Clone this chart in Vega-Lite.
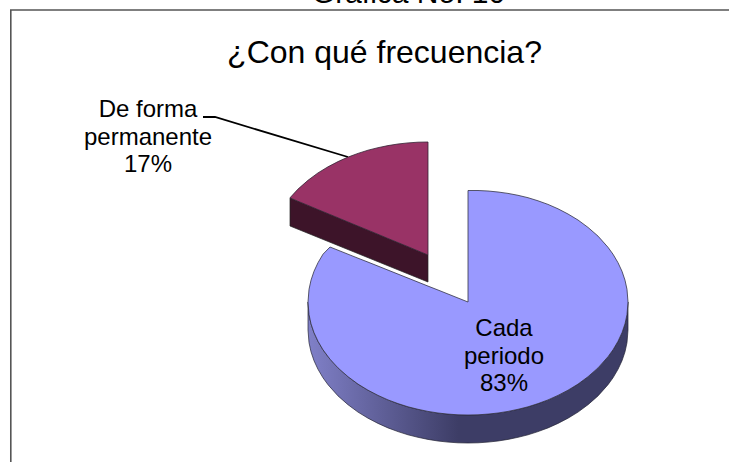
{"$schema":"https://vega.github.io/schema/vega-lite/v6.json","width":729,"height":462,"autosize":"none","padding":0,"background":"white","view":{"stroke":null},
"datasets":{
"frame":[{"x":10.8,"x2":760,"y":10,"y2":500}],
"blueWall":[{"x":308,"y":302,"y2":330},{"x":309,"y":314.6,"y2":342.6},{"x":311,"y":323.8,"y2":351.8},{"x":314,"y":332.7,"y2":360.7},{"x":318,"y":341.3,"y2":369.3},{"x":323,"y":349.8,"y2":377.8},{"x":328,"y":356.7,"y2":384.7},{"x":338,"y":367.9,"y2":395.9},{"x":348,"y":376.7,"y2":404.7},{"x":358,"y":384.1,"y2":412.1},{"x":368,"y":390.2,"y2":418.2},{"x":378,"y":395.4,"y2":423.4},{"x":388,"y":399.9,"y2":427.9},{"x":398,"y":403.6,"y2":431.6},{"x":408,"y":406.8,"y2":434.8},{"x":418,"y":409.3,"y2":437.3},{"x":428,"y":411.4,"y2":439.4},{"x":438,"y":413,"y2":441},{"x":448,"y":414.1,"y2":442.1},{"x":458,"y":414.8,"y2":442.8},{"x":468,"y":415,"y2":443},{"x":478,"y":414.8,"y2":442.8},{"x":488,"y":414.1,"y2":442.1},{"x":498,"y":413,"y2":441},{"x":508,"y":411.4,"y2":439.4},{"x":518,"y":409.3,"y2":437.3},{"x":528,"y":406.8,"y2":434.8},{"x":538,"y":403.6,"y2":431.6},{"x":548,"y":399.9,"y2":427.9},{"x":558,"y":395.4,"y2":423.4},{"x":568,"y":390.2,"y2":418.2},{"x":578,"y":384.1,"y2":412.1},{"x":588,"y":376.7,"y2":404.7},{"x":598,"y":367.9,"y2":395.9},{"x":608,"y":356.7,"y2":384.7},{"x":613,"y":349.8,"y2":377.8},{"x":618,"y":341.3,"y2":369.3},{"x":622,"y":332.7,"y2":360.7},{"x":625,"y":323.8,"y2":351.8},{"x":627,"y":314.6,"y2":342.6},{"x":628,"y":302,"y2":330}],
"blueTop":[{"x":308,"y":302,"y2":302},{"x":309,"y":289.4,"y2":314.6},{"x":311,"y":280.2,"y2":323.8},{"x":314,"y":271.3,"y2":332.7},{"x":318,"y":262.7,"y2":341.3},{"x":323,"y":254.2,"y2":349.8},{"x":330,"y":247,"y2":359.2},{"x":338,"y":250.2,"y2":367.9},{"x":348,"y":254.2,"y2":376.7},{"x":358,"y":258.2,"y2":384.1},{"x":368,"y":262.1,"y2":390.2},{"x":378,"y":266.1,"y2":395.4},{"x":388,"y":270.1,"y2":399.9},{"x":398,"y":274.1,"y2":403.6},{"x":408,"y":278.1,"y2":406.8},{"x":418,"y":282.1,"y2":409.3},{"x":428,"y":286.1,"y2":411.4},{"x":438,"y":290,"y2":413},{"x":448,"y":294,"y2":414.1},{"x":458,"y":298,"y2":414.8},{"x":468,"y":302,"y2":415},{"x":468.01,"y":190.5,"y2":415},{"x":478,"y":190.5,"y2":414.8},{"x":488,"y":191,"y2":414.1},{"x":498,"y":192,"y2":413},{"x":508,"y":193.4,"y2":411.4},{"x":518,"y":195.3,"y2":409.3},{"x":528,"y":197.7,"y2":406.8},{"x":538,"y":200.8,"y2":403.6},{"x":548,"y":204.4,"y2":399.9},{"x":558,"y":208.8,"y2":395.4},{"x":568,"y":214,"y2":390.2},{"x":578,"y":220,"y2":384.1},{"x":588,"y":227.4,"y2":376.7},{"x":598,"y":236.1,"y2":367.9},{"x":608,"y":247.3,"y2":356.7},{"x":613,"y":254.2,"y2":349.8},{"x":618,"y":262.7,"y2":341.3},{"x":622,"y":271.3,"y2":332.7},{"x":625,"y":280.2,"y2":323.8},{"x":627,"y":289.4,"y2":314.6},{"x":628,"y":302,"y2":302}],
"maroonWall":[{"x":290,"y":198,"y2":226},{"x":428,"y":255,"y2":282}],
"maroonTop":[{"x":290,"y":197.8,"y2":197.8},{"x":298,"y":189.1,"y2":201.3},{"x":308,"y":180.3,"y2":205.4},{"x":318,"y":172.9,"y2":209.6},{"x":328,"y":166.8,"y2":213.7},{"x":338,"y":161.6,"y2":217.8},{"x":348,"y":157.1,"y2":222},{"x":358,"y":153.4,"y2":226.1},{"x":368,"y":150.2,"y2":230.2},{"x":378,"y":147.7,"y2":234.3},{"x":388,"y":145.6,"y2":238.5},{"x":398,"y":144,"y2":242.6},{"x":408,"y":142.9,"y2":246.7},{"x":418,"y":142.2,"y2":250.9},{"x":428,"y":142,"y2":255}],
"leader":[{"x":203,"y":117},{"x":215,"y":117},{"x":348,"y":157}],
"labels":[{"label":"De forma\npermanente\n17%","share":17,"x":148,"y":117},{"label":"Cada\nperiodo\n83%","share":83,"x":504,"y":336}],
"header":[{"label":"Gráfica No. 10","x":408.5,"y":3}],
"chartTitle":[{"label":"¿Con qué frecuencia?","x":384.5,"y":63}]
},
"layer":[
{"data":{"name":"frame"},"mark":{"type":"rect","fill":null,"stroke":"#555555","strokeWidth":1.6,"clip":true},"encoding":{"x":{"field":"x","type":"quantitative","scale":{"domain":[0,729],"nice":false,"zero":false},"axis":null},"x2":{"field":"x2"},"y":{"field":"y","type":"quantitative","scale":{"domain":[0,462],"reverse":true,"nice":false,"zero":false},"axis":null},"y2":{"field":"y2"}}},
{"data":{"name":"blueWall"},"mark":{"type":"area","stroke":"#222233","strokeWidth":0.7,"color":{"gradient":"linear","x1":0,"y1":0,"x2":1,"y2":0,"stops":[{"offset":0,"color":"#8080C8"},{"offset":0.47,"color":"#3D3D66"},{"offset":1,"color":"#3D3D66"}]}},"encoding":{"x":{"field":"x","type":"quantitative","axis":null},"y":{"field":"y","type":"quantitative","axis":null},"y2":{"field":"y2"}}},
{"data":{"name":"blueTop"},"mark":{"type":"area","color":"#9999FF","stroke":"#333344","strokeWidth":0.8},"encoding":{"x":{"field":"x","type":"quantitative","axis":null},"y":{"field":"y","type":"quantitative","axis":null},"y2":{"field":"y2"}}},
{"data":{"name":"leader"},"mark":{"type":"line","color":"#000000","strokeWidth":1.8},"encoding":{"x":{"field":"x","type":"quantitative","axis":null},"y":{"field":"y","type":"quantitative","axis":null}}},
{"data":{"name":"maroonWall"},"mark":{"type":"area","color":"#3D1429","stroke":"#222222","strokeWidth":0.7},"encoding":{"x":{"field":"x","type":"quantitative","axis":null},"y":{"field":"y","type":"quantitative","axis":null},"y2":{"field":"y2"}}},
{"data":{"name":"maroonTop"},"mark":{"type":"area","color":"#993366","stroke":"#332233","strokeWidth":0.8},"encoding":{"x":{"field":"x","type":"quantitative","axis":null},"y":{"field":"y","type":"quantitative","axis":null},"y2":{"field":"y2"}}},
{"data":{"name":"labels"},"mark":{"type":"text","font":"Liberation Sans","fontSize":24,"lineBreak":"\n","lineHeight":27.5,"align":"center","baseline":"alphabetic","color":"#000000"},"encoding":{"x":{"field":"x","type":"quantitative","axis":null},"y":{"field":"y","type":"quantitative","axis":null},"text":{"field":"label","type":"nominal"}}},
{"data":{"name":"chartTitle"},"mark":{"type":"text","font":"Liberation Sans","fontSize":32,"align":"center","baseline":"alphabetic","color":"#000000"},"encoding":{"x":{"field":"x","type":"quantitative","axis":null},"y":{"field":"y","type":"quantitative","axis":null},"text":{"field":"label","type":"nominal"}}},
{"data":{"name":"header"},"mark":{"type":"text","font":"Liberation Sans","fontSize":30,"align":"center","baseline":"alphabetic","color":"#000000"},"encoding":{"x":{"field":"x","type":"quantitative","axis":null},"y":{"field":"y","type":"quantitative","axis":null},"text":{"field":"label","type":"nominal"}}}
]}
